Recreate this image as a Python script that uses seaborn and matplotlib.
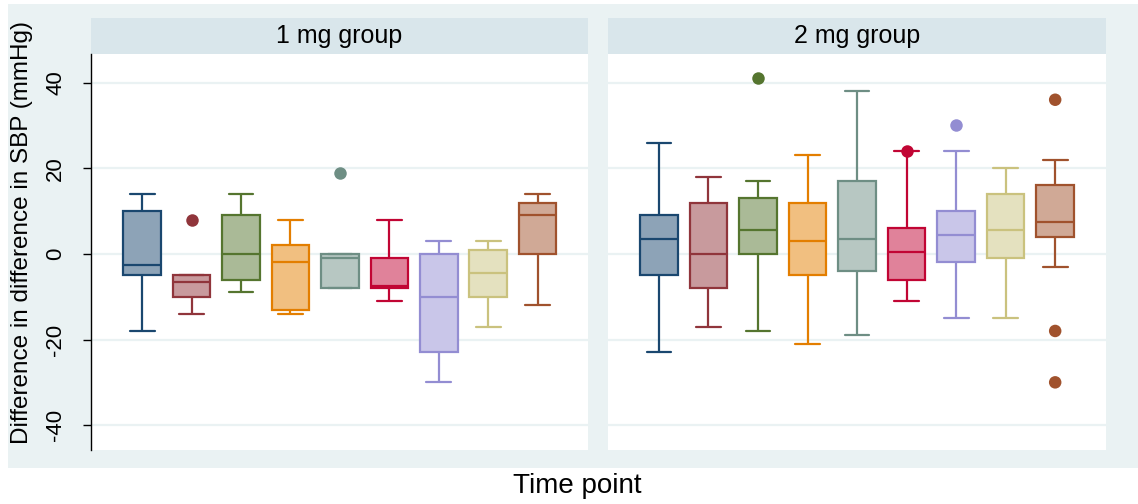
import numpy as np
import pandas as pd
import matplotlib
matplotlib.use("Agg")
import matplotlib.pyplot as plt
from matplotlib.patches import Rectangle
import seaborn as sns

# ---- data -----------------------------------------------------------------
panels = ["1 mg group", "2 mg group"]
time_points = ["T1", "T2", "T3", "T4", "T5", "T6", "T7", "T8", "T9"]

# five-number summaries per time point: lower whisker, Q1, median, Q3, upper whisker
mg1_low = [-18, -14, -9, -14, -8, -11, -30, -17, -12]
mg1_q1 = [-5, -10, -6, -13, -8, -8, -23, -10, 0]
mg1_med = [-2.5, -6.5, 0, -2, -1, -7.5, -10, -4.5, 9]
mg1_q3 = [10, -5, 9, 2, 0, -1, 0, 1, 12]
mg1_high = [14, -5, 14, 8, 0, 8, 3, 3, 14]
mg1_out_time = ["T2", "T5"]
mg1_out_value = [8, 19]

mg2_low = [-23, -17, -18, -21, -19, -11, -15, -15, -3]
mg2_q1 = [-5, -8, 0, -5, -4, -6, -2, -1, 4]
mg2_med = [3.5, 0, 5.5, 3, 3.5, 0.5, 4.5, 5.5, 7.5]
mg2_q3 = [9, 12, 13, 12, 17, 6, 10, 14, 16]
mg2_high = [26, 18, 17, 23, 38, 24, 24, 20, 22]
mg2_out_time = ["T3", "T6", "T7", "T9", "T9", "T9"]
mg2_out_value = [41, 24, 30, 36, -18, -30]

yticks = [-40, -20, 0, 20, 40]

# ---- styling ---------------------------------------------------------------
sns.set_theme(style="white")
plt.rcParams["font.family"] = ["Liberation Sans", "DejaVu Sans"]
plt.rcParams["axes.unicode_minus"] = False
for key in ["text.color", "axes.labelcolor", "xtick.color", "ytick.color"]:
    plt.rcParams[key] = "black"

line_colors = [
    (26, 71, 111), (144, 53, 59), (85, 117, 47), (227, 126, 0), (110, 142, 132),
    (193, 5, 52), (147, 141, 210), (202, 194, 126), (160, 82, 45),
]
edge_colors = [tuple(c / 255 for c in rgb) for rgb in line_colors]
fill_colors = [tuple(0.5 * c + 0.5 for c in e) for e in edge_colors]
edge_map = dict(zip(time_points, edge_colors))

region_bg = "#EAF2F3"
strip_bg = "#D9E6EB"
grid_col = "#EAF2F3"

BOX_WIDTH = 0.76
CAP_WIDTH = 0.5

W, H = 1138, 504
fig = plt.figure(figsize=(W / 100, H / 100), dpi=100, facecolor="white")

# outer graph region
fig.patches.append(Rectangle((8 / W, (H - 468) / H), (W - 8) / W, 464 / H,
                             transform=fig.transFigure, facecolor=region_bg,
                             edgecolor="none", zorder=-10))


def box_frame(low, q1, med, q3, high):
    rows = []
    for t, vals in zip(time_points, zip(low, q1, med, q3, high)):
        for v in vals:
            rows.append({"time": t, "value": v})
    return pd.DataFrame(rows)


panel_data = [
    (box_frame(mg1_low, mg1_q1, mg1_med, mg1_q3, mg1_high),
     pd.DataFrame({"time": mg1_out_time, "value": mg1_out_value})),
    (box_frame(mg2_low, mg2_q1, mg2_med, mg2_q3, mg2_high),
     pd.DataFrame({"time": mg2_out_time, "value": mg2_out_value})),
]

panel_x = [(91, 588), (607.7, 1105.7)]
plot_top, plot_bottom = 53.5, 450
strip_top = 18

for i, (title, (boxes, outliers), (x0, x1)) in enumerate(zip(panels, panel_data, panel_x)):
    ax = fig.add_axes([x0 / W, (H - plot_bottom) / H, (x1 - x0) / W,
                       (plot_bottom - plot_top) / H])
    ax.set_facecolor("white")

    for t, fc, ec in zip(time_points, fill_colors, edge_colors):
        sub = boxes[boxes["time"] == t]
        sns.boxplot(data=sub, x="time", y="value", order=time_points,
                    color=fc, linecolor=ec, linewidth=1.6, width=BOX_WIDTH,
                    whis=(0, 100), saturation=1, fliersize=0, ax=ax)

    # widen the whisker caps (default is half the box width)
    for ln in ax.lines:
        xd, yd = np.asarray(ln.get_xdata(), float), np.asarray(ln.get_ydata(), float)
        if len(xd) == 2 and yd[0] == yd[1]:
            span = abs(xd[1] - xd[0])
            if abs(span - 0.5 * BOX_WIDTH) < 1e-3:
                c = xd.mean()
                half = CAP_WIDTH / 2
                ln.set_xdata([c - half, c + half])

    sns.stripplot(data=outliers, x="time", y="value", order=time_points,
                  hue="time", palette=edge_map, jitter=False, size=9,
                  linewidth=0, legend=False, zorder=5, ax=ax)

    ax.set_xlim(-1.035, 9.02)
    ax.set_ylim(-45.8, 46.8)
    ax.set_xticks([])
    ax.set_xlabel("")
    ax.set_ylabel("")
    ax.set_yticks(yticks)
    ax.yaxis.grid(True, color=grid_col, linewidth=1.6)
    ax.set_axisbelow(True)
    for side in ["top", "right", "bottom"]:
        ax.spines[side].set_visible(False)

    if i == 0:
        ax.spines["left"].set_visible(True)
        ax.spines["left"].set_color("black")
        ax.spines["left"].set_linewidth(1.0)
        ax.tick_params(axis="y", which="major", direction="out", length=6,
                       width=1, color="black", labelcolor="black", pad=12,
                       labelsize=16, labelrotation=90, left=True)
        ax.set_yticklabels([str(v) for v in yticks])
        for lab in ax.get_yticklabels():
            lab.set_va("center")
    else:
        ax.spines["left"].set_visible(False)
        ax.tick_params(axis="y", left=False, labelleft=False)

    # facet strip
    fig.patches.append(Rectangle((x0 / W, (H - plot_top) / H), (x1 - x0) / W,
                                 (plot_top - strip_top) / H,
                                 transform=fig.transFigure, facecolor=strip_bg,
                                 edgecolor="none", zorder=-5))
    fig.text((x0 + x1) / 2 / W, (H - (plot_top + strip_top) / 2) / H, title,
             ha="center", va="center", fontsize=18, color="black")

fig.text(22 / W, (H - 232) / H, "Difference in difference in SBP (mmHg)",
         rotation=90, ha="center", va="center", fontsize=17.5, color="black")
fig.text(577 / W, (H - 486) / H, "Time point", ha="center", va="center",
         fontsize=20, color="black")

fig.savefig("out.png", dpi=100, facecolor="white")
